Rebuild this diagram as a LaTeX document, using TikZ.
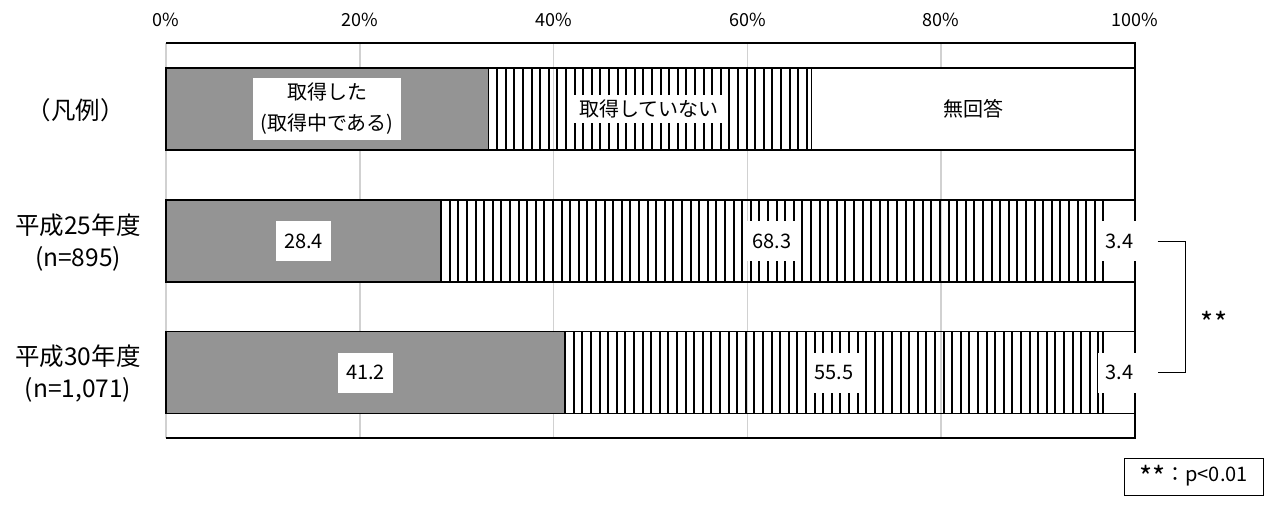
\documentclass[tikz,border=0pt]{standalone}
\usepackage{fontspec}
\setmainfont{Noto Sans CJK JP}

\newcommand\fsTick{\fontsize{18}{22}\selectfont}
\newcommand\fsIn{\fontsize{20}{31}\selectfont}
\newcommand\fsSide{\fontsize{24.5}{32}\selectfont}
\newcommand\fsStar{\fontsize{28}{30}\selectfont}

\begin{document}
\begin{tikzpicture}[x=1pt,y=-1pt]
	\tikzstyle{grid}=[draw=black!18,line width=1.5pt]
	\tikzstyle{frame}=[draw=black,line width=1.8pt]
	\tikzstyle{dotseg}=[fill=black!42,draw=black,line width=1.6pt]
	\tikzstyle{stripe}=[draw=black,line width=2pt]
	\tikzstyle{lineseg}=[draw=black,line width=1.6pt]
	\tikzstyle{blankseg}=[fill=white,draw=black,line width=1.6pt]
	\tikzstyle{tick}=[font=\fsTick]
	\tikzstyle{side}=[font=\fsSide,align=center]
	\tikzstyle{lab}=[fill=white,font=\fsIn,align=center,inner xsep=7pt,inner ysep=5pt]
	\tikzstyle{val}=[fill=white,font=\fsIn,inner xsep=8pt,minimum width=44pt,minimum height=40pt]
	\useasboundingbox (0,0) rectangle (1270,506);

	% gridlines and ticks
	\foreach \p in {0,20,...,80}
	\draw[grid] ({166+\p*9.69},43) -- ({166+\p*9.69},438);
	\foreach \p in {0,20,...,100}
	\node[tick] (t-\p) at ({166+\p*9.69},20) {\p\%};

	% bars
	\foreach \name/\y/\a/\b in {leg/109/33.3/66.6, h25/241/28.4/96.7, h30/372.5/41.2/96.7} {
		\pgfmathsetmacro\xa{166+\a*9.69}
		\pgfmathsetmacro\xb{166+\b*9.69}
		\draw[dotseg] (166,\y-41) rectangle (\xa,\y+41);
		\begin{scope}
			\clip (\xa,\y-41) rectangle (\xb,\y+41);
			\foreach \x in {8.6,17.2,...,700}
			\draw[stripe] (\xa+\x,\y-41) -- (\xa+\x,\y+41);
		\end{scope}
		\draw[lineseg] (\xa,\y-41) rectangle (\xb,\y+41);
		\draw[blankseg] (\xb,\y-41) rectangle (1135,\y+41);
	}

	\draw[frame] (166,43) -- (1135,43) -- (1135,438) -- (166,438);

	% legend texts
	\node[lab] (l-1) at (327,109) {取得した\\(取得中である)};
	\node[lab] (l-2) at (649,109) {取得していない};
	\node[lab] (l-3) at (973,109) {無回答};

	% values
	\foreach \name/\y/\a/\b/\c in {h25/241/28.4/68.3/3.4, h30/372.5/41.2/55.5/3.4} {
		\node[val] (v-\name-1) at ({166+\a*9.69/2},\y) {\a};
		\node[val] (v-\name-2) at ({166+(\a+\b/2)*9.69},\y) {\b};
		\node[val] (v-\name-3) at ({166+(\a+\b+\c/2)*9.69},\y) {\c};
	}

	% side labels
	\node[side] (y-leg) at (76,110) {（凡例）};
	\node[side] (y-h25) at (78,243) {平成25年度\\(n=895)};
	\node[side] (y-h30) at (78,374) {平成30年度\\(n=1,071)};

	% significance
	\draw[line width=1pt] ([xshift=16pt]v-h25-3.east) -- ++(28,0) |- ([xshift=16pt]v-h30-3.east);
	\node[font=\fsStar] (sig) at (1214,322) {**};
	\node[draw,line width=1pt,font=\fsIn,minimum width=139pt,minimum height=37pt] (note) at (1193.5,476.5) {{\fsStar\raisebox{-6pt}{**}}：p<0.01};
\end{tikzpicture}
\end{document}
